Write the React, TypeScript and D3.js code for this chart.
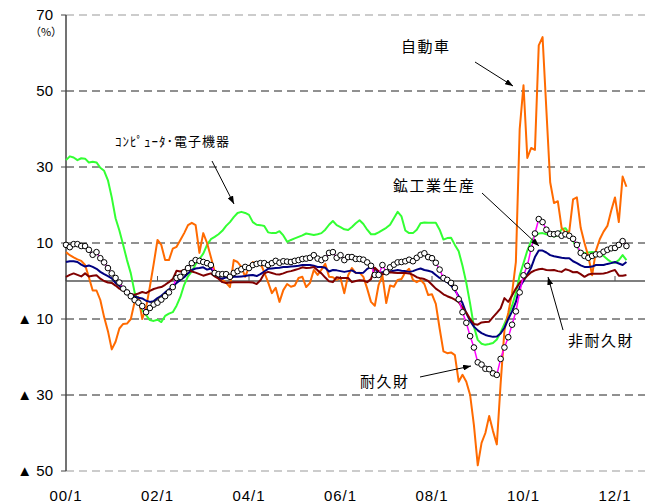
import React from 'react';
import * as d3 from 'd3';

// monthly, 2000/1 .. 2012/4, y/y %
const xTickLabels = ['00/1', '02/1', '04/1', '06/1', '08/1', '10/1', '12/1'];
const yTicks = [70, 50, 30, 10, -10, -30, -50];
const yTickLabels = ['70', '50', '30', '10', '▲ 10', '▲ 30', '▲ 50'];

// 自動車
const jidosha = [
  7.6, 6.8, 6.2, 5.7, 5.3, 4.2, 1, -2.5, -2.5, -5, -9.5, -13.2,
  -18, -16, -12.5, -11.3, -11.2, -10, -5.5, -4.2, -10, -7, -1.5, 4.5,
  10.8, 9.5, 5.5, 5.5, 8.5, 9, 10.8, 12.6, 14.7, 15.3, 14.7, 7.4,
  12.6, 10, 6.3, 2.5, 1, 0.3, -0.5, -1.6, 5.5, 5, 3.7, 1.1,
  3.7, 5, 4.4, 4.7, 2.3, -0.3, -3.2, -1.8, -5.5, -2.4, -0.8, -1.5,
  -1.2, 0.8, 1.1, -1.6, -0.5, 2.9, 1.6, 3, 4.5, 1.1, 1, 0.3,
  0.8, -3.2, 1.5, 3.4, 2.1, 2.2, 1.1, -2, -5.5, -6.5, -1, 1.4,
  -5.8, -1.2, -1.5, 0.3, 0.5, 2.3, 3.2, 0.3, -0.3, 0.3, -0.8, -3.7,
  -3.5, -6, -12.5, -18.5, -19, -18.8, -19.5, -26.5, -24.7, -26.5, -30, -38,
  -48.5, -42.6, -40, -35.5, -39.5, -43, -27, -13, -8.4, -3.2, 5, 40,
  51.5, 32.4, 35, 34.5, 62, 64.2, 45, 26, 20.5, 21, 14, 12.8,
  13, 21.5, 22, 14, 10, 6.5, 1.5, 8, 11, 13, 14.5, 18.5,
  22, 15.5, 27.5, 24.8,
];

// コンピュータ・電子機器
const computer = [
  31.8, 32.8, 32.5, 31.8, 32.3, 32.2, 31.2, 31.4, 31.2, 29.8, 29, 26.5,
  22, 16.5, 13.3, 9.5, 5.5, 2, -3, -5.5, -7.7, -9, -10.3, -10.5,
  -10.2, -10.8, -9.2, -8.6, -8.2, -6.5, -4.2, -1, 1.2, 2.5, 4.4, 5.8,
  7.2, 9.5, 11, 11.6, 12.3, 13.2, 14.5, 15.5, 16.8, 17.9, 18.2, 17.9,
  17.4, 15.5, 14.8, 14.7, 14.5, 12.8, 12.6, 12.6, 13.1, 12, 10.3, 10.8,
  11.2, 11.6, 12, 12.5, 12.3, 12.1, 12.3, 12.6, 13.5, 14.8, 15.8, 14.7,
  14.2, 13.6, 13.4, 14.2, 15.2, 16, 15, 13.5, 12.3, 12.3, 12.8, 13.4,
  14, 14.8, 16.5, 18.2, 17, 13.3, 12.6, 12.6, 13.5, 15.2, 15.4, 15.3,
  15.3, 15.3, 13.5, 10.9, 11.3, 11.4, 9.5, 7.8, 4, -0.5, -6, -12,
  -15.5, -16.5, -16.8, -16.6, -16.3, -15.4, -13.5, -11.3, -9, -6.5, -3.2, 1.5,
  4.7, 8, 10.5, 11.8, 12.5, 12.6, 12.3, 12, 11.7, 12, 13.6, 13.9,
  12.5, 10.5, 9, 7.5, 7.4, 7.5, 7.6, 7.5, 7.3, 6.6, 5.7, 5,
  4.8, 5.5, 6.8, 5.5,
];

// 鉱工業生産
const kokogyo = [
  5, 5.2, 5.2, 5, 4.3, 3.8, 4.1, 3.7, 3.2, 2.4, 1.8, 1.3,
  0.7, -0.5, -1.3, -2.2, -2.9, -3.5, -4, -4.4, -4.6, -5.2, -5.5, -5.3,
  -4.5, -3.9, -3, -2.2, -1.6, -0.5, 0.3, 1, 2, 2.9, 3.3, 3.4,
  3.6, 3, 3.3, 2, 0.8, 0.6, 1, 0.8, 1.1, 1.1, 1.2, 1.3,
  1.5, 1.6, 1.3, 1.8, 2.5, 3.2, 3.3, 3.4, 3.5, 3.7, 3.7, 3.8,
  3.9, 4, 4.2, 4.2, 4.2, 4, 3.7, 3.7, 3.5, 2.5, 2.9, 2.8,
  2.6, 2.4, 2.6, 2.8, 2.2, 2.1, 2.2, 3.2, 3.7, 3.3, 2.1, 2.3,
  2.4, 2.5, 2.7, 2.9, 2.7, 2.6, 2.4, 2.6, 3, 3.3, 2.9, 2.7,
  2.4, 1.6, 0.8, 0.3, -0.3, -1.2, -2.4, -4, -5.8, -8.5, -10.5, -12,
  -13, -13.7, -14.2, -14.5, -14.7, -14.6, -13.8, -12.3, -10, -8, -5.5, -1.6,
  0, 1.8, 3.5, 6.3, 8, 8, 7.5, 6.8, 6.5, 6.3, 6.1, 6,
  6, 5.2, 4.7, 4.1, 3.7, 3.7, 3.8, 4.2, 4.2, 4.2, 4.5, 4.7,
  5, 4.6, 4.2, 5,
];

// 非耐久財
const hitaikyu = [
  1.1, 1.6, 2, 1.6, 1.2, 2, 1.2, 1.4, 1.5, 0.6, 0, -0.4,
  -0.5, -1.2, -2, -2.5, -2.9, -3.5, -3.6, -3.3, -2.9, -3.2, -2.6, -2.1,
  -1.8, -1.6, -1, -0.3, 0.5, 2.7, 2.5, 2.9, 3.2, 2.5, 2.2, 1.8,
  1.4, 1.7, 2, 1.2, 0.6, -0.3, -0.5, -0.4, -0.3, -0.3, -0.3, -0.3,
  -0.3, -0.4, -0.8, 0.2, 2, 2.4, 2.1, 1.8, 1.7, 2, 2.4, 2.6,
  2.9, 3.2, 3.6, 3.4, 3.5, 3.7, 2.8, 2, 0.9, -0.1, -0.3, 1,
  0.8, 0.8, 0.8, -0.3, 0, 0.2, 0.1, -0.3, 0.5, 3.5, 2.6, 1.8,
  2, 2.3, 2.2, 2.1, 2.1, 2.1, 2, 1.6, 1, 0.7, 0.5, 0,
  -1, -2, -2.7, -3.5, -4, -4.4, -4.9, -5.6, -7, -8.3, -10, -11.3,
  -11.5, -10.9, -10.8, -10.7, -9.5, -8.4, -7.2, -4.5, -5.5, -3.8, -2, -0.5,
  0.4, 1.4, 2.3, 2.8, 3.1, 3.2, 2.9, 2.8, 2.9, 2.6, 2.4, 3.1,
  2.8, 2.3, 2.4, 1.8, 1.1, 1.7, 1.9, 1.9, 1.9, 2, 2.2, 2.6,
  2.9, 1.4, 1.4, 1.6,
];

// 耐久財
const taikyu = [
  9.5, 8.9, 9.7, 9.7, 9.2, 9.2, 8.2, 6.9, 7.6, 6, 4.9, 3.4,
  2, 0.8, -0.4, -2, -3, -4, -5, -5.7, -6.6, -8.2, -7.1, -6.2,
  -5.7, -4.9, -4, -3, -1.6, 0.8, 1.1, 2.3, 3.4, 4.7, 5.5, 5.3,
  5, 4.7, 4.2, 2.1, 1.8, 1.8, 1.8, 1.1, 2.1, 2.6, 3.1, 3.7,
  3.4, 4.2, 4.5, 4.7, 4.7, 4.2, 4.7, 5.3, 4.8, 5.2, 5.1, 5,
  5.3, 5.5, 5.8, 5.9, 6.1, 6.8, 5.9, 5.5, 6, 7.4, 7.6, 6.1,
  6.8, 5.5, 6.3, 6.3, 5.8, 5.8, 5.6, 4.9, 4, 1.6, 1.6, 4.2,
  2.3, 3.6, 4.3, 4.9, 5, 5.2, 5.6, 5.2, 6.1, 6.9, 7.3, 6.3,
  6, 4.8, 3, 0.8, 0.3, -0.5, -1.8, -4.8, -8.2, -11, -14.5, -17.5,
  -21.4, -22, -23.1, -23.2, -24.3, -24.7, -20.5, -17.5, -14.8, -11.5, -8, -3,
  1.5, 4, 8.5, 12.5, 16.3, 15.5, 13.5, 12.4, 12.3, 12.5, 11.9, 12.3,
  11.9, 11.1, 9.5, 7.4, 6.6, 6.1, 6.6, 7, 7, 7.7, 8.2, 8.6,
  8.7, 9.5, 10.5, 9.2,
];

const labelFont = '"Liberation Sans", "Noto Sans CJK JP", Arial, sans-serif';
const jpFont = '"Noto Sans CJK JP", sans-serif';

export default function App() {
  const width = 649;
  const height = 503;
  const left = 66;
  const right = 645;

  const x = d3.scaleLinear().domain([0, 144]).range([66, 615]);
  const y = d3.scaleLinear().domain([-50, 70]).range([471, 15]);

  const line = d3.line<number>()
    .x((d, i) => x(i))
    .y(d => y(d));

  const series = [
    { data: computer, color: '#33ff33', w: 2 },
    { data: jidosha, color: '#ff6a00', w: 2 },
    { data: kokogyo, color: '#000080', w: 2 },
    { data: hitaikyu, color: '#800000', w: 2 },
    { data: taikyu, color: '#ff00ff', w: 1.5 },
  ];

  const arrows = [
    { x1: 475, y1: 62, x2: 513, y2: 86 },
    { x1: 212, y1: 161, x2: 234, y2: 204 },
    { x1: 482, y1: 193, x2: 539, y2: 246 },
    { x1: 563, y1: 330, x2: 548, y2: 277 },
    { x1: 420, y1: 377, x2: 471, y2: 366 },
  ];

  return (
    <svg width={width} height={height} style={{ position: 'absolute', left: 0, top: 0, background: '#fff' }}>
      <defs>
        <marker id="ah" markerUnits="userSpaceOnUse" markerWidth={8} markerHeight={6}
          refX={8} refY={3} orient="auto">
          <path d="M0,0 L8,3 L0,6 z" fill="#000" />
        </marker>
      </defs>

      {/* grid */}
      {yTicks.map(t => (
        <line key={t} x1={left} x2={right} y1={y(t)} y2={y(t)}
          stroke={t === 70 || t === -50 ? '#999' : '#222'}
          strokeWidth={1} strokeDasharray="8,5" />
      ))}
      <line x1={left} x2={right} y1={y(0)} y2={y(0)} stroke="#555" strokeWidth={1.3} />
      {xTickLabels.map((l, i) => (
        <line key={l} x1={x(i * 24)} x2={x(i * 24)} y1={y(0)} y2={y(0) - 5} stroke="#555" />
      ))}

      {/* left axis */}
      <line x1={left} x2={left} y1={y(70)} y2={y(-50)} stroke="#444" strokeWidth={1.5} />
      {yTicks.map((t, i) => (
        <g key={t}>
          <line x1={left - 5} x2={left} y1={y(t)} y2={y(t)} stroke="#444" />
          <text x={53} y={y(t)} dy="0.36em" textAnchor="end" fontSize={15}
            fontFamily={labelFont} fill="#000">{yTickLabels[i]}</text>
        </g>
      ))}
      <text x={46} y={36} textAnchor="middle" fontSize={11} fontFamily={jpFont}>（%）</text>

      {xTickLabels.map((l, i) => (
        <text key={l} x={x(i * 24)} y={501} textAnchor="middle" fontSize={15}
          fontFamily={labelFont} letterSpacing={1}>{l}</text>
      ))}

      {/* series */}
      {series.map((s, i) => (
        <path key={i} d={line(s.data) || ''} fill="none" stroke={s.color}
          strokeWidth={s.w} strokeLinejoin="round" />
      ))}
      {taikyu.map((d, i) => (
        <circle key={i} cx={x(i)} cy={y(d)} r={2.8} fill="#fff" stroke="#000" strokeWidth={1} />
      ))}

      {/* annotations */}
      {arrows.map((a, i) => (
        <line key={i} x1={a.x1} y1={a.y1} x2={a.x2} y2={a.y2} stroke="#000" strokeWidth={1}
          markerEnd="url(#ah)" />
      ))}
      <text x={401} y={52} fontSize={15} fontFamily={jpFont} letterSpacing={1.5}>自動車</text>
      <text x={115} y={146} fontSize={13} fontFamily={jpFont} letterSpacing={1}>ｺﾝﾋﾟｭｰﾀ･電子機器</text>
      <text x={393} y={191} fontSize={15} fontFamily={jpFont} letterSpacing={1.5}>鉱工業生産</text>
      <text x={568} y={346} fontSize={15} fontFamily={jpFont} letterSpacing={1.5}>非耐久財</text>
      <text x={360} y={387} fontSize={15} fontFamily={jpFont} letterSpacing={1.5}>耐久財</text>
    </svg>
  );
}
